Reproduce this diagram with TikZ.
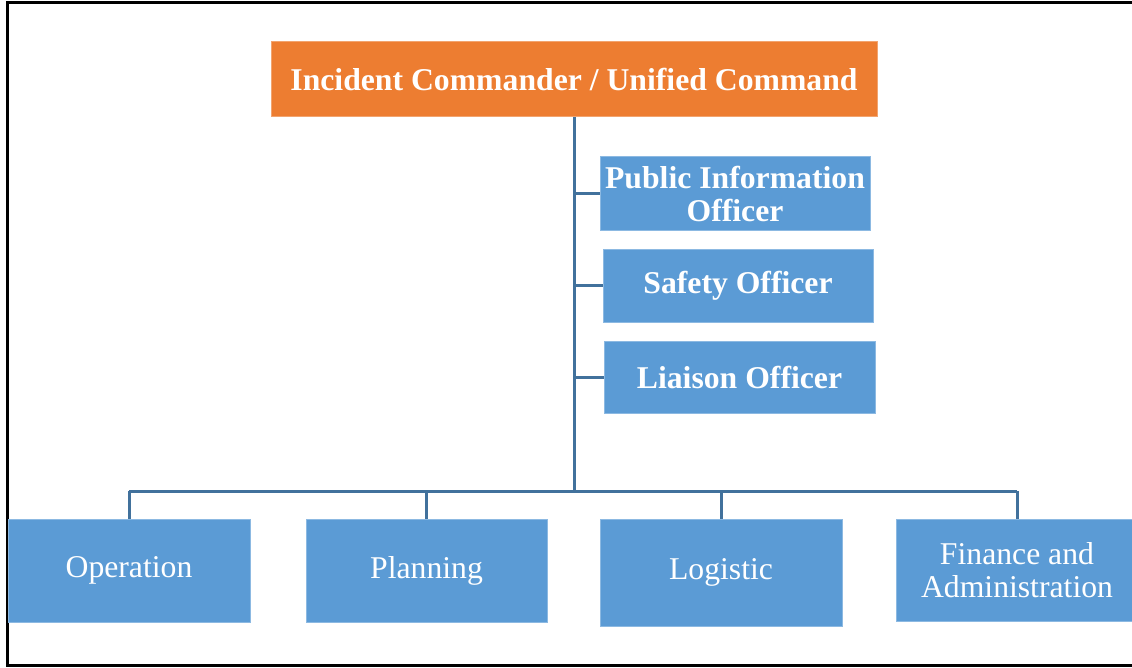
\documentclass[tikz,border=0pt]{standalone}
\usepackage{fontspec}
\setmainfont{Liberation Serif}
\usepackage{xcolor}
\usepackage{tikz}
\usetikzlibrary{calc}
\definecolor{cmdorange}{RGB}{237,125,49}
\definecolor{unitblue}{RGB}{91,155,213}
\definecolor{linkblue}{RGB}{65,113,156}
\tikzset{
  unit/.style = {
    fill=unitblue, draw=unitblue!70!white, line width=1pt,
    text=white, align=center, inner sep=0pt,
    font=\fontsize{31.7}{33}\selectfont
  },
  staff/.style = {unit, font=\fontsize{31.7}{32.5}\selectfont\bfseries},
  link/.style = {draw=linkblue, line width=3pt}
}

\begin{document}
\begin{tikzpicture}[x=1pt,y=-1pt]
  \useasboundingbox (0,0) rectangle (1132,668);
  \clip (0,0) rectangle (1132,668);
  \draw[line width=3pt] (7,2.7) rectangle (1150,665.8);

  % command
  \node[staff, fill=cmdorange, draw=cmdorange!70!white,
        minimum width=606pt, minimum height=75pt] (cmd) at (574,79.5)
        {Incident Commander / Unified Command};

  % command staff
  \node[staff, minimum width=270pt, minimum height=74pt] (pio) at (735,194)
        {Public Information\\Officer};
  \node[staff, minimum width=270pt, minimum height=72pt] (safe) at (738,286)
        {Safety Officer};
  \node[staff, minimum width=271pt, minimum height=72pt] (liai) at (739.5,377)
        {Liaison Officer};

  % general staff
  \node[unit, minimum width=242pt, minimum height=103pt] (ops) at (129,570.5)
        {Operation};
  \node[unit, minimum width=241pt, minimum height=103pt] (plan) at (426.5,570.5)
        {Planning};
  \node[unit, minimum width=242pt, minimum height=107pt] (logi) at (721,572.5)
        {Logistic};
  \node[unit, minimum width=242pt, minimum height=102pt] (fin) at (1017,570)
        {Finance and\\Administration};

  \coordinate (hub) at (574,491);
  \draw[link] (cmd.south) -- (hub);
  \foreach \s in {pio,safe,liai}{
    \draw[link] (hub |- \s.west) -- (\s.west);
  }
  \draw[link] (hub -| ops.north) -- (hub -| fin.north);
  \foreach \s in {ops,plan,logi,fin}{
    \draw[link] (hub -| \s.north) -- (\s.north);
  }
\end{tikzpicture}
\end{document}
